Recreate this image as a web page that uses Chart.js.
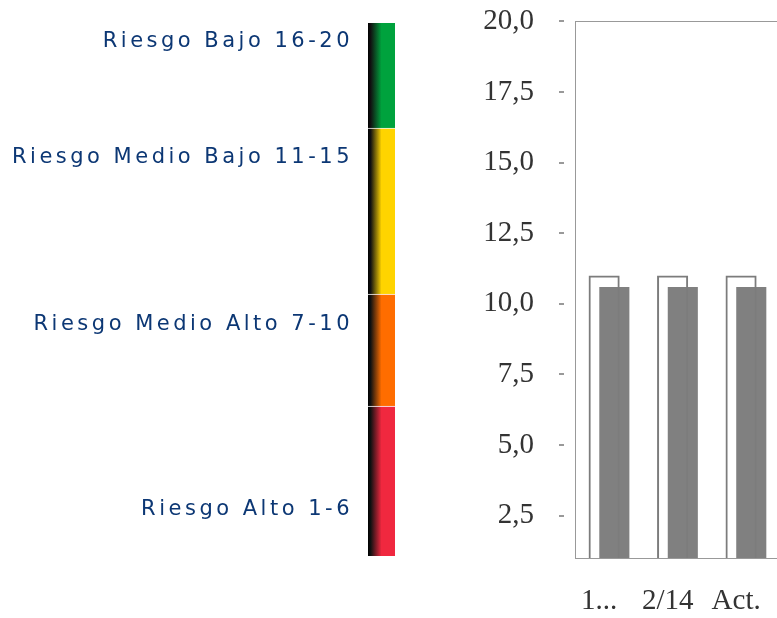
<!DOCTYPE html>
<html>
<head>
<meta charset="utf-8">
<script src="https://cdn.jsdelivr.net/npm/chart.js@4"></script>
<style>
  html, body { margin: 0; padding: 0; overflow: hidden; background: #fff; width: 777px; height: 618px; }
  .box { position: absolute; }
</style>
</head>
<body>
<div class="box" style="left:0;top:0;width:410px;height:618px"><canvas id="legend"></canvas></div>
<div class="box" style="left:440px;top:-37px;width:360px;height:655px"><canvas id="chart"></canvas></div>
<script>
// risk scale on the left (units, bottom = 0)
const riskLabels = ['Riesgo Alto 1-6', 'Riesgo Medio Alto 7-10', 'Riesgo Medio Bajo 11-15', 'Riesgo Bajo 16-20'];
const riskBands = [[0, 150], [150, 262], [262, 428], [428, 533]];
const riskLabelAt = [46, 231, 398, 514];
const riskColors = ['#f0283f', '#ff6d00', '#ffd400', '#00a23d'];

// score chart
const categories = ['1...', '2/14', 'Act.'];
const outlineValues = [11.0, 11.0, 11.0];
const scoreValues = [10.6, 10.6, 10.6];
const yTicks = [2.5, 5, 7.5, 10, 12.5, 15, 17.5, 20];

Chart.defaults.animation = false;

function shadeGradient(color) {
  return (ctx) => {
    const area = ctx.chart.chartArea;
    if (!area) return color;
    const g = ctx.chart.ctx.createLinearGradient(area.left, 0, area.right, 0);
    g.addColorStop(0, '#000');
    g.addColorStop(0.1, '#111');
    g.addColorStop(0.5, color);
    g.addColorStop(1, color);
    return g;
  };
}

const spacing = {
  id: 'spacing',
  beforeDraw(chart) { chart.ctx.letterSpacing = '3.5px'; },
  afterDraw(chart) { chart.ctx.letterSpacing = '0px'; }
};

new Chart(document.getElementById('legend'), {
  type: 'bar',
  data: {
    labels: [''],
    datasets: riskBands.map((band, i) => ({
      data: [band],
      grouped: false,
      backgroundColor: shadeGradient(riskColors[i]),
      borderColor: 'rgba(255,255,255,0.7)',
      borderWidth: { top: i === riskBands.length - 1 ? 0 : 1, left: 0, right: 0, bottom: 0 },
      borderSkipped: false,
      categoryPercentage: 1,
      barPercentage: 1
    }))
  },
  options: {
    responsive: true,
    maintainAspectRatio: false,
    layout: { padding: { top: 23, bottom: 62, left: 0, right: 15 } },
    plugins: { legend: { display: false }, tooltip: { enabled: false } },
    scales: {
      x: { display: false },
      y: {
        min: 0,
        max: 533,
        afterBuildTicks: (s) => { s.ticks = riskLabelAt.map(v => ({ value: v })); },
        afterFit: (s) => { s.width = 368; s.paddingTop = 0; s.paddingBottom = 0; },
        grid: { display: false, drawTicks: false },
        border: { display: false },
        ticks: {
          padding: 15,
          color: '#0c3774',
          font: { family: 'DejaVu Sans', size: 21 },
          callback: (v, i) => riskLabels[i]
        }
      }
    }
  },
  plugins: [spacing]
});

const tickDashes = {
  id: 'tickDashes',
  afterDraw(chart) {
    const y = chart.scales.y;
    const ctx = chart.ctx;
    ctx.save();
    ctx.fillStyle = '#999';
    y.ticks.forEach(t => {
      const py = Math.round(y.getPixelForValue(t.value));
      ctx.fillRect(chart.chartArea.left - 16, py - 1, 5, 2);
    });
    ctx.restore();
  }
};

new Chart(document.getElementById('chart'), {
  type: 'bar',
  data: {
    labels: categories,
    datasets: [
      {
        data: outlineValues,
        backgroundColor: 'rgba(255,255,255,0)',
        borderColor: '#7c7c7c',
        borderWidth: 2,
        categoryPercentage: 0.298,
        barPercentage: 3.05
      },
      {
        data: scoreValues,
        backgroundColor: '#808080',
        borderWidth: 0,
        categoryPercentage: 0.298,
        barPercentage: 2.95
      }
    ]
  },
  options: {
    responsive: true,
    maintainAspectRatio: false,
    layout: { padding: { top: 20, left: 0, right: 12, bottom: 0 } },
    plugins: { legend: { display: false }, tooltip: { enabled: false } },
    scales: {
      x: {
        grid: { display: false, drawTicks: false },
        border: { color: '#999', width: 1 },
        afterFit: (s) => { s.height = 60; },
        ticks: {
          padding: 26,
          labelOffset: -10,
          color: '#333',
          font: { family: 'Liberation Serif', size: 29 }
        }
      },
      xTop: {
        type: 'category',
        position: 'top',
        labels: categories,
        grid: { display: false, drawTicks: false },
        border: { color: '#999', width: 1 },
        ticks: { display: false },
        afterFit: (s) => { s.height = 0; }
      },
      y: {
        min: 1,
        max: 20,
        afterBuildTicks: (s) => { s.ticks = yTicks.map(v => ({ value: v })); },
        afterFit: (s) => { s.width = 135; },
        grid: { display: false, drawTicks: false },
        border: { color: '#999', width: 1 },
        ticks: {
          padding: 41,
          color: '#333',
          font: { family: 'Liberation Serif', size: 29 },
          callback: (v) => v.toFixed(1).replace('.', ',')
        }
      }
    }
  },
  plugins: [tickDashes]
});
</script>
</body>
</html>
